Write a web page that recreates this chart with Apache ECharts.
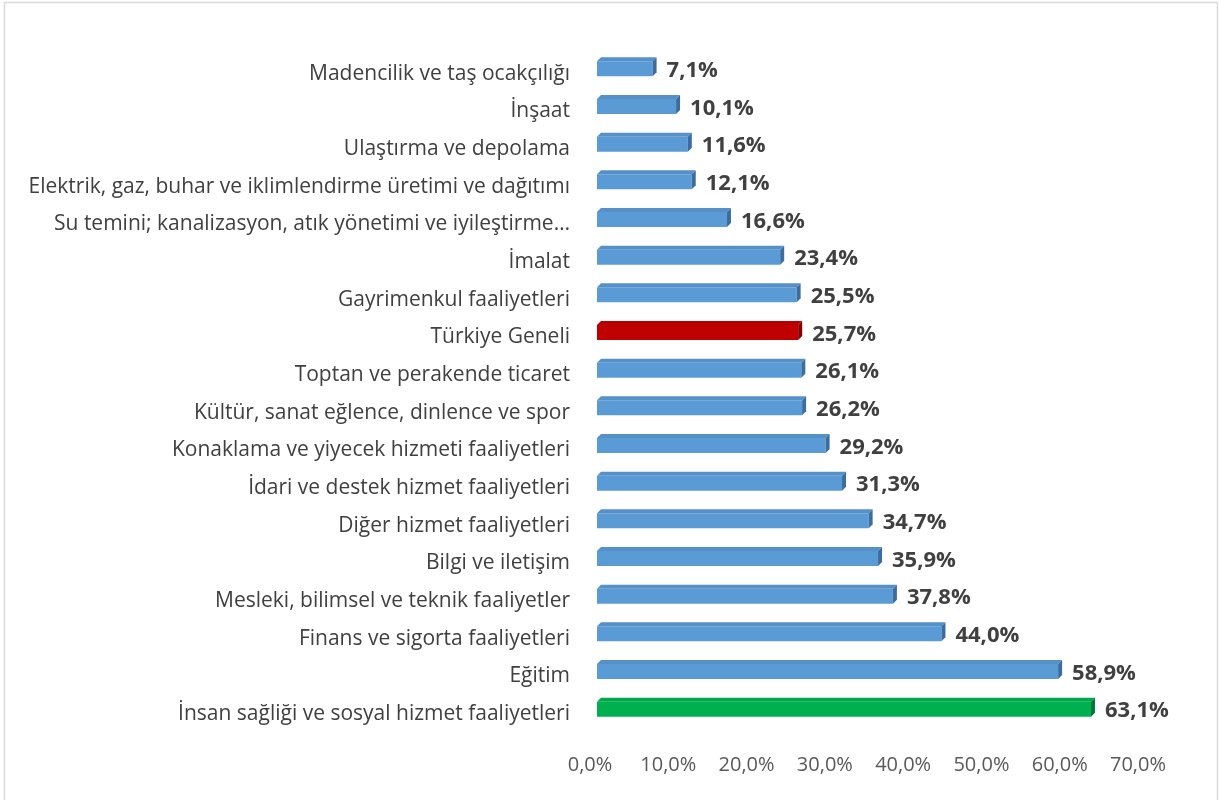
<!DOCTYPE html>
<html>
<head>
<meta charset="utf-8">
<script src="https://cdn.jsdelivr.net/npm/echarts@6/dist/echarts.min.js"></script>
<style>
  html, body { margin: 0; padding: 0; background: #fff; }
  #main { width: 1219px; height: 800px; }
</style>
</head>
<body>
<div id="main"></div>
<script>
// sektörler (yukarıdan aşağıya)
var categories = [
  'Madencilik ve taş ocakçılığı',
  'İnşaat',
  'Ulaştırma ve depolama',
  'Elektrik, gaz, buhar ve iklimlendirme üretimi ve dağıtımı',
  'Su temini; kanalizasyon, atık yönetimi ve iyileştirme…',
  'İmalat',
  'Gayrimenkul faaliyetleri',
  'Türkiye Geneli',
  'Toptan ve perakende ticaret',
  'Kültür, sanat eğlence, dinlence ve spor',
  'Konaklama ve yiyecek hizmeti faaliyetleri',
  'İdari ve destek hizmet faaliyetleri',
  'Diğer hizmet faaliyetleri',
  'Bilgi ve iletişim',
  'Mesleki, bilimsel ve teknik faaliyetler',
  'Finans ve sigorta faaliyetleri',
  'Eğitim',
  'İnsan sağliği ve sosyal hizmet faaliyetleri'
];
var values = [7.1, 10.1, 11.6, 12.1, 16.6, 23.4, 25.5, 25.7, 26.1, 26.2, 29.2, 31.3, 34.7, 35.9, 37.8, 44.0, 58.9, 63.1];
var xTicks = [0, 10, 20, 30, 40, 50, 60, 70];

var FONT = '"Open Sans", sans-serif';

// renkler: ön yüz, üst yüz, yan yüz
var blue = ['#5b9bd5', '#5590c8', '#3b6e9e'];
var red = ['#c00000', '#b80000', '#850000'];
var green = ['#00b050', '#00a84a', '#007a36'];

function pickColor(i) {
  if (categories[i] === 'Türkiye Geneli') return red;
  if (i === categories.length - 1) return green;
  return blue;
}

function fmt(v) {
  return v.toFixed(1).replace('.', ',') + '%';
}

var myChart = echarts.init(document.getElementById('main'));

var data = values.map(function (v, i) { return [v, i]; });

var option = {
  animation: false,
  backgroundColor: '#fff',
  graphic: [{
    type: 'rect',
    shape: { x: 4.5, y: 2.5, width: 1213, height: 820 },
    style: { fill: 'none', stroke: '#d9d9d9', lineWidth: 1.5 },
    silent: true
  }],
  grid: { left: 597, right: 74, top: 55, bottom: 67 },
  xAxis: {
    type: 'value',
    min: xTicks[0],
    max: xTicks[xTicks.length - 1],
    interval: 10,
    axisLine: { show: false },
    axisTick: { show: false },
    splitLine: { show: false },
    axisLabel: {
      margin: 22,
      color: '#595959',
      fontSize: 20,
      fontFamily: FONT,
      padding: [0, 14, 0, 0],
      formatter: function (v) { return fmt(v); }
    }
  },
  yAxis: {
    type: 'category',
    inverse: true,
    data: categories,
    axisLine: { show: false },
    axisTick: { show: false },
    axisLabel: {
      margin: 27,
      color: '#404040',
      fontSize: 21,
      fontFamily: FONT
    }
  },
  series: [{
    type: 'custom',
    data: data,
    encode: { x: 0, y: 1 },
    renderItem: function (params, api) {
      var val = api.value(0);
      var idx = api.value(1);
      var p0 = api.coord([0, idx]);
      var p1 = api.coord([val, idx]);
      var x0 = p0[0], x1 = p1[0];
      var cy = p0[1] - 5;
      var h = 15, d = 4;
      var top = cy - h / 2, bot = cy + h / 2;
      var c = pickColor(idx);
      return {
        type: 'group',
        children: [
          {
            type: 'rect',
            shape: { x: x0, y: top, width: x1 - x0, height: h },
            style: { fill: c[0] }
          },
          {
            type: 'polygon',
            shape: { points: [[x0, top], [x0 + d, top - d], [x1 + d, top - d], [x1, top]] },
            style: { fill: c[1] }
          },
          {
            type: 'polygon',
            shape: { points: [[x1, top], [x1 + d, top - d], [x1 + d, bot - d], [x1, bot]] },
            style: { fill: c[2] }
          },
          {
            type: 'text',
            x: x1 + d + 10,
            y: p0[1] - 3,
            style: {
              text: fmt(val),
              fill: '#404040',
              font: 'bold 22px ' + FONT,
              verticalAlign: 'middle',
              align: 'left'
            }
          }
        ]
      };
    }
  }]
};

myChart.setOption(option);
</script>
</body>
</html>
